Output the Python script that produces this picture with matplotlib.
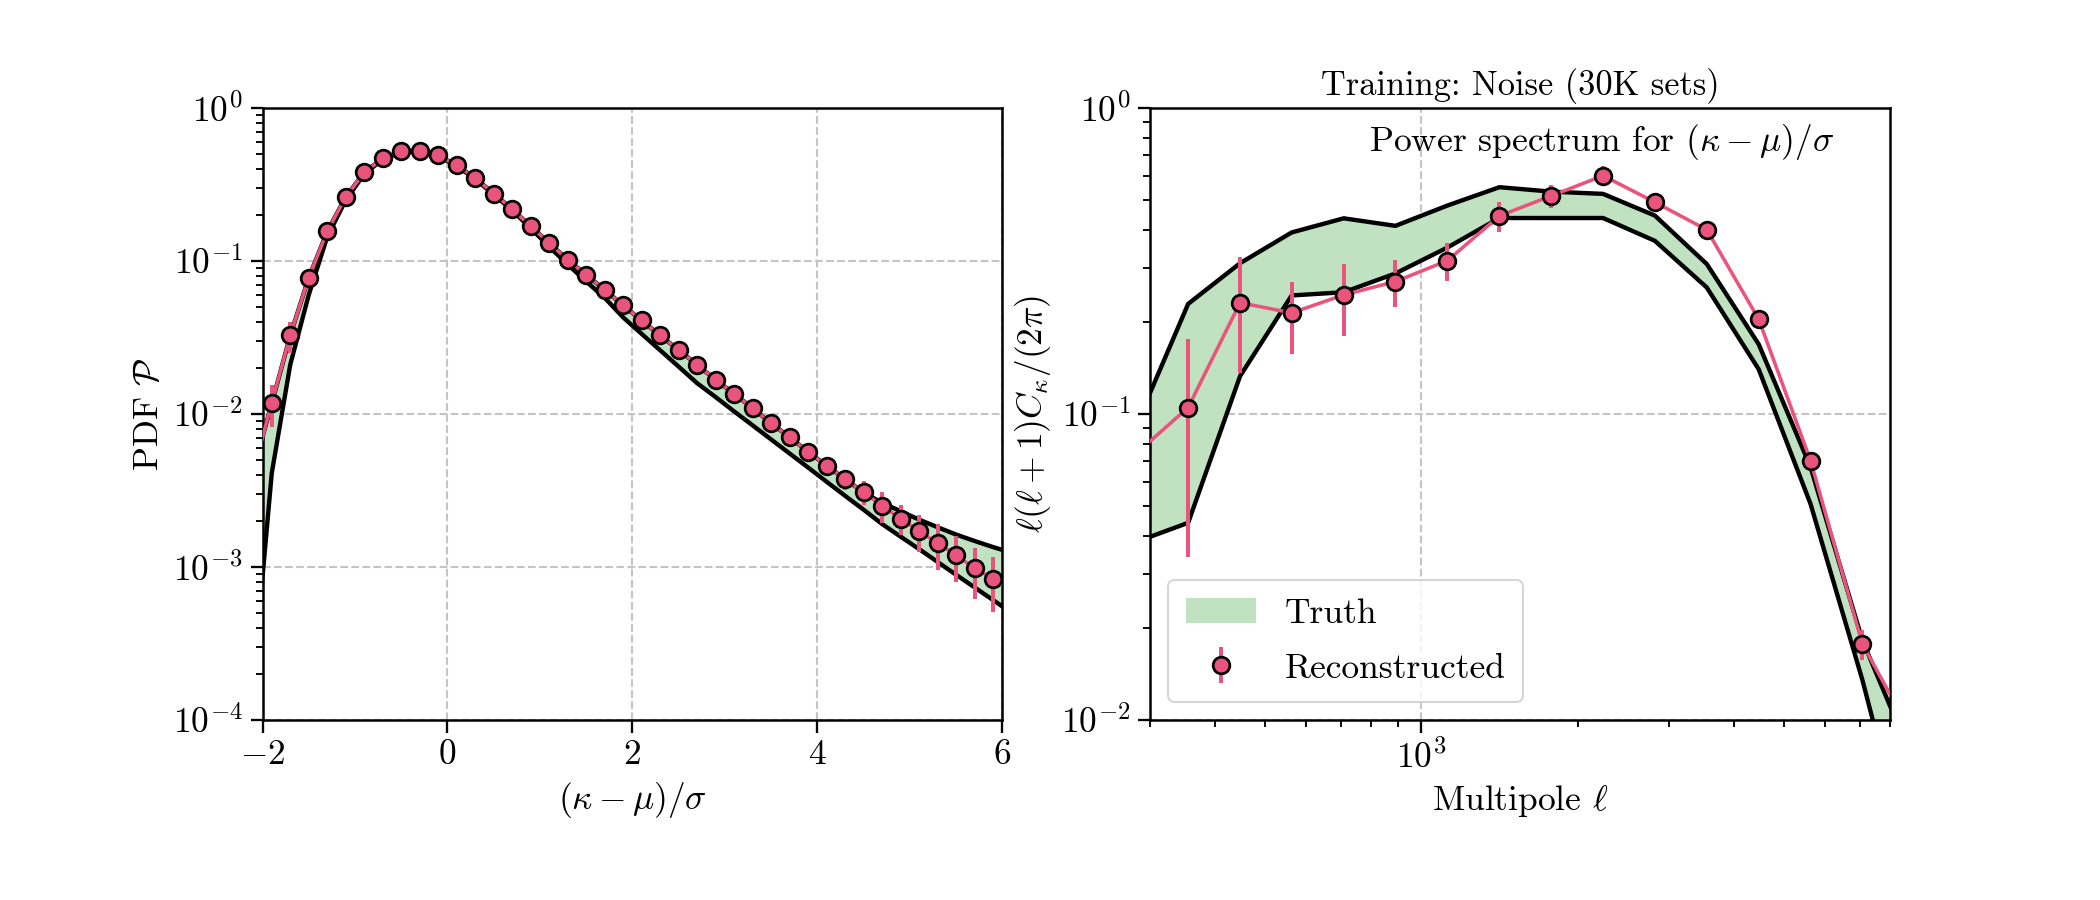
"""PDF and power spectrum of (kappa - mu)/sigma: truth band vs reconstruction."""
import numpy as np
import matplotlib
matplotlib.use('Agg')
import matplotlib.pyplot as plt
from matplotlib.ticker import NullFormatter

plt.rcParams['font.family'] = 'serif'
plt.rcParams['font.serif'] = ['cmr10', 'DejaVu Serif']
plt.rcParams['mathtext.fontset'] = 'cm'
plt.rcParams['axes.formatter.use_mathtext'] = True

PINK = '#e9547c'
GREEN = '#c0e2c0'
FS = 17

# --- left panel: one-point PDF ---
# bin centres (the outer two fall just outside the plotted range)
pdf_x = [-2.1, -1.9, -1.7, -1.5, -1.3, -1.1, -0.9, -0.7, -0.5, -0.3, -0.1,
         0.1, 0.3, 0.5, 0.7, 0.9, 1.1, 1.3, 1.5, 1.7, 1.9,
         2.1, 2.3, 2.5, 2.7, 2.9, 3.1, 3.3, 3.5, 3.7, 3.9,
         4.1, 4.3, 4.5, 4.7, 4.9, 5.1, 5.3, 5.5, 5.7, 5.9, 6.1]
pdf_rec = [0.0042, 0.0118, 0.0326, 0.0778, 0.156, 0.262, 0.379, 0.468, 0.520, 0.526, 0.490,
           0.421, 0.348, 0.276, 0.218, 0.169, 0.131, 0.102, 0.0813, 0.0649, 0.0512,
           0.0409, 0.0326, 0.0262, 0.0210, 0.0167, 0.0136, 0.0109, 0.0087, 0.00705, 0.00566,
           0.0046, 0.00375, 0.00308, 0.00251, 0.00207, 0.00172, 0.00143, 0.00120, 0.00098, 0.00084,
           0.00071]
pdf_err = [0.0, 0.0036, 0.0075, 0.008, 0.010, 0.012, 0.012, 0.012, 0.012, 0.012, 0.011,
           0.010, 0.009, 0.008, 0.007, 0.006, 0.005, 0.004, 0.0035, 0.003, 0.0028,
           0.0025, 0.0022, 0.002, 0.0018, 0.0016, 0.0015, 0.0013, 0.0011, 0.0009, 0.0006,
           0.0006, 0.00055, 0.00055, 0.00058, 0.00046, 0.00047, 0.00047, 0.0004, 0.00036, 0.00033,
           0.0]
pdf_hi = [0.0043, 0.0117, 0.0326, 0.0778, 0.156, 0.262, 0.379, 0.468, 0.520, 0.526, 0.490,
          0.421, 0.348, 0.276, 0.218, 0.169, 0.131, 0.102, 0.0813, 0.0649, 0.0512,
          0.0409, 0.0326, 0.0262, 0.0210, 0.0167, 0.0136, 0.0109, 0.0087, 0.00705, 0.00566,
          0.0046, 0.00375, 0.00308, 0.00262, 0.00232, 0.00204, 0.00182, 0.00163, 0.00148, 0.00135,
          0.00124]
pdf_lo = [0.00018, 0.0041, 0.021, 0.060, 0.144, 0.250, 0.370, 0.462, 0.515, 0.521, 0.485,
          0.417, 0.344, 0.272, 0.214, 0.164, 0.124, 0.095, 0.0735, 0.0575, 0.0428,
          0.0334, 0.0261, 0.0204, 0.0159, 0.0129, 0.0104, 0.00843, 0.00682, 0.00552, 0.00447,
          0.00361, 0.00292, 0.00237, 0.00191, 0.00158, 0.00131, 0.00108, 0.00089, 0.000736, 0.000608,
          0.000502]

# --- right panel: power spectrum ---
ell = [282, 355, 447, 562, 708, 891, 1122, 1413, 1778, 2239, 2818, 3548, 4467, 5623, 7079, 8913]
cl_rec = [0.0743, 0.105, 0.231, 0.214, 0.245, 0.271, 0.317, 0.444, 0.516, 0.601, 0.492, 0.400,
          0.204, 0.0704, 0.0177, 0.0087]
cl_err = [0.0, 0.071, 0.095, 0.057, 0.065, 0.047, 0.045, 0.05, 0.045, 0.045, 0.02, 0.028,
          0.01, 0.004, 0.002, 0.0]
cl_hi = [0.092, 0.229, 0.311, 0.392, 0.436, 0.412, 0.480, 0.551, 0.533, 0.524, 0.445, 0.309,
         0.169, 0.067, 0.0182, 0.0072]
cl_lo = [0.0382, 0.0441, 0.133, 0.244, 0.250, 0.288, 0.350, 0.437, 0.437, 0.437, 0.368, 0.259,
         0.140, 0.0508, 0.0135, 0.003]

fig, (ax1, ax2) = plt.subplots(1, 2, figsize=(14, 6), dpi=150)
fig.subplots_adjust(left=0.125, right=0.9, bottom=0.2, top=0.88, wspace=0.2)

for ax, x, lo, hi, rec, err in [(ax1, pdf_x, pdf_lo, pdf_hi, pdf_rec, pdf_err),
                                (ax2, ell, cl_lo, cl_hi, cl_rec, cl_err)]:
    ax.fill_between(x, lo, hi, color=GREEN, lw=0, label='Truth', zorder=2)
    ax.plot(x, hi, color='k', lw=2.1, zorder=3)
    ax.plot(x, lo, color='k', lw=2.1, zorder=3)
    ax.plot(x, rec, color=PINK, lw=1.7, zorder=4)
    ax.errorbar(x, rec, yerr=err, fmt='o', color=PINK, mfc=PINK, mec='k', ms=8, mew=1.3,
                elinewidth=1.9, capsize=0, zorder=5, label='Reconstructed')
    ax.set_yscale('log')
    ax.grid(True, which='major', ls='--', color='#c4c4c4', lw=1.0, zorder=0)
    ax.set_axisbelow(True)
    ax.tick_params(which='major', length=6, width=1.1, labelsize=FS)
    ax.tick_params(which='minor', length=3.5, width=0.9)
    for s in ax.spines.values():
        s.set_linewidth(1.2)

ax1.set_xlim(-2, 6)
ax1.set_ylim(1e-4, 1)
ax1.set_xticks([-2, 0, 2, 4, 6])
ax1.set_xlabel(r'$(\kappa-\mu)/\sigma$', fontsize=FS)
ax1.set_ylabel(r'PDF $\mathcal{P}$', fontsize=FS)

ax2.set_xscale('log')
ax2.set_xlim(300, 8000)
ax2.set_ylim(1e-2, 1)
ax2.xaxis.set_minor_formatter(NullFormatter())
ax2.yaxis.set_minor_formatter(NullFormatter())
ax2.set_xlabel(r'Multipole $\ell$', fontsize=FS)
ax2.set_ylabel(r'$\ell(\ell+1)C_\kappa/(2\pi)$', fontsize=FS)
ax2.set_title('Training: Noise (30K sets)', fontsize=16.5)
ax2.text(0.925, 0.945, r'Power spectrum for $(\kappa-\mu)/\sigma$', transform=ax2.transAxes,
         ha='right', va='center', fontsize=FS)
ax2.legend(loc='lower left', fontsize=FS, labelspacing=0.65, borderpad=0.5)

plt.savefig('out.png', dpi=150)
plt.close()
